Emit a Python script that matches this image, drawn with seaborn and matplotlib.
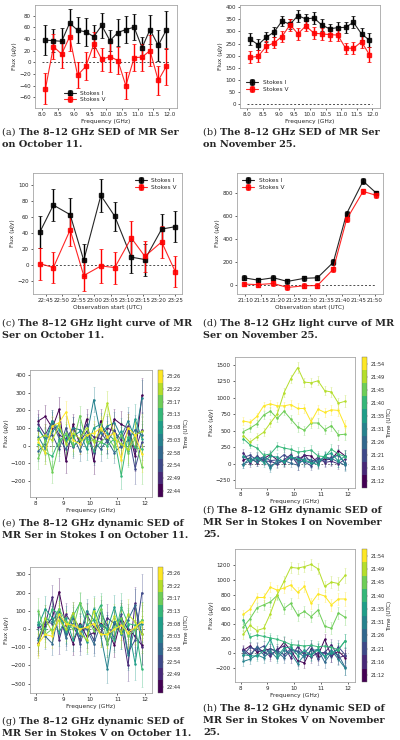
import numpy as np
import pandas as pd
import matplotlib
matplotlib.use("Agg")
import matplotlib.pyplot as plt
import matplotlib.dates as mdates
from matplotlib.colors import BoundaryNorm
from matplotlib.cm import ScalarMappable
import seaborn as sns

W, H = 400, 740

# ---------------- data ----------------
freq = [8.10, 8.35, 8.61, 8.86, 9.11, 9.37, 9.62, 9.87,
        10.13, 10.38, 10.63, 10.89, 11.14, 11.39, 11.65, 11.90]

# (a) SED Oct 11
oct_sed_I = [38, 37, 36, 67, 55, 52, 44, 63, 37, 51, 56, 60, 25, 56, 29, 55]
oct_sed_I_err = [26, 20, 23, 24, 22, 24, 19, 21, 18, 23, 23, 22, 18, 25, 26, 32]
oct_sed_V = [-45, 27, 14, 44, -22, -7, 31, 5, 10, 3, -40, 8, 9, 20, -31, -7]
oct_sed_V_err = [26, 22, 23, 24, 22, 24, 21, 20, 26, 23, 23, 23, 23, 26, 25, 31]

# (b) SED Nov 25
nov_sed_I = [267, 245, 276, 298, 343, 330, 366, 352, 356, 327, 311, 316, 317, 338, 290, 264]
nov_sed_I_err = [25, 22, 20, 22, 22, 20, 25, 22, 25, 23, 20, 22, 22, 25, 25, 30]
nov_sed_V = [192, 197, 238, 253, 279, 328, 290, 323, 293, 290, 287, 285, 231, 230, 257, 204]
nov_sed_V_err = [25, 25, 23, 23, 22, 24, 25, 22, 25, 25, 25, 25, 23, 25, 25, 30]

# (c) light curve Oct 11
oct_lc_time = ["22:43:06", "22:47:18", "22:52:30", "22:56:42", "23:02:00",
               "23:06:18", "23:11:24", "23:15:36", "23:20:48", "23:25:00"]
oct_lc_I = [41, 75, 63, 6, 87, 61, 10, 7, 45, 48]
oct_lc_I_err = [20, 20, 21, 20, 21, 18, 20, 20, 19, 19]
oct_lc_V = [2, -3, 44, -13, -1, -3, 34, 11, 29, -8]
oct_lc_V_err = [20, 19, 20, 19, 21, 20, 21, 19, 20, 19]

# (d) light curve Nov 25
nov_lc_time = ["21:09:30", "21:13:48", "21:18:42", "21:23:00", "21:28:12",
               "21:32:18", "21:37:12", "21:41:18", "21:46:24", "21:50:30"]
nov_lc_I = [60, 40, 60, 28, 55, 60, 195, 620, 905, 800]
nov_lc_I_err = [20, 20, 20, 20, 20, 20, 25, 25, 25, 20]
nov_lc_V = [5, 0, 10, -25, -10, -8, 135, 570, 815, 780]
nov_lc_V_err = [20, 20, 20, 20, 20, 20, 22, 25, 25, 20]

# colour bar labels (scan times)
oct_scans = ["22:44", "22:49", "22:54", "22:58", "23:03",
             "23:08", "23:13", "23:17", "23:22", "23:26"]
nov_scans = ["21:12", "21:16", "21:21", "21:26", "21:31",
             "21:35", "21:40", "21:45", "21:49", "21:54"]

# (e) dynamic SED Stokes I, Oct 11 (one row per scan)
oct_dyn_I = [
    [140, 165, 100, 205, -90, 120, 10, 150, -90, 140, 30, 150, 120, 100, -60, 285],
    [120, 60, 140, 60, 40, 100, 20, 80, 50, 40, 100, 80, 30, 110, -30, 90],
    [90, 40, 60, -20, 100, -10, 40, 120, -40, 80, 20, 90, -10, 80, -130, 20],
    [-30, 10, 130, 40, -20, 60, -30, 60, 30, -20, 30, -40, 0, 30, 90, 60],
    [50, -20, 80, 120, 20, 100, 90, 50, 260, 70, 110, 130, 50, 140, 40, 270],
    [100, 30, 140, 90, 30, 50, 80, -20, 100, 120, 70, 30, 80, -30, 150, 40],
    [10, -40, -60, 30, 60, 0, 30, 40, -30, 20, 0, 40, -170, 50, -10, -20],
    [-70, 30, -150, 10, 70, 10, 170, 20, 30, 20, 50, -10, 60, -40, 40, -120],
    [40, 60, 30, 120, 10, 70, 40, 100, 20, 90, 240, 40, 10, -20, 60, 80],
    [20, -40, 110, 130, 190, 30, 10, 60, 70, 100, 50, 70, -80, 100, 60, -50],
]
oct_dyn_I_err = [60, 65, 60, 70, 65, 60, 55, 60, 70, 65, 70, 60, 75, 80, 85, 100]

# (f) dynamic SED Stokes I, Nov 25
nov_dyn_I = [
    [60, 90, 20, 80, 140, 60, 20, 100, 60, 130, 120, 10, 80, 60, 200, 120],
    [170, 10, 120, 40, 40, 0, 60, 140, -10, 140, 20, 100, 20, 40, 0, 70],
    [100, 130, 60, 110, 50, 60, 140, 70, 110, 30, -30, 80, 40, 100, 130, 10],
    [0, 40, 110, 60, -30, 20, 50, 10, -20, 80, 60, 20, 110, 80, 30, -20],
    [-10, 90, 30, 100, -70, 60, 30, 120, 30, 40, 10, 50, 100, 70, 150, 0],
    [120, 40, 90, 20, 120, 100, 30, 100, 80, 60, 20, -10, 130, 160, 40, 120],
    [380, 290, 240, 130, 150, 270, 240, 220, 180, 190, 210, 120, 110, 220, 150, 110],
    [490, 540, 610, 740, 800, 690, 800, 680, 560, 510, 620, 620, 520, 580, 440, 450],
    [430, 330, 410, 480, 620, 760, 1080, 1290, 1460, 1240, 1230, 1260, 1110, 1090, 920, 950],
    [650, 630, 720, 880, 910, 880, 880, 900, 840, 840, 640, 830, 780, 820, 810, 580],
]
nov_dyn_I_err = [60, 55, 55, 60, 60, 60, 65, 65, 80, 70, 70, 70, 70, 75, 80, 90]

# (g) dynamic SED Stokes V, Oct 11
oct_dyn_V = [
    [-75, 15, 60, 205, 20, -80, 30, -40, -20, 30, 0, -90, 60, 0, -40, -90],
    [10, 25, 175, -60, 80, 20, -60, 80, 10, -20, 60, 30, 20, -200, 140, -100],
    [-50, 40, 30, 70, -30, 90, -80, 20, -60, 90, 20, -50, 80, -130, -60, 200],
    [30, -40, -80, 100, -50, 60, 10, 0, -80, 20, -80, 40, -30, 50, 130, -30],
    [-60, 60, 40, 110, -20, 30, -40, 100, 50, -30, -220, 40, 50, -140, 10, 30],
    [20, 110, 60, -20, 60, -60, 20, -70, 110, 20, 0, 120, -30, 20, -190, 50],
    [40, 0, 110, 80, -10, 70, 140, 20, 50, 130, -20, -60, 120, 30, 20, -220],
    [100, -30, 0, 110, 40, 0, 145, 70, -10, 110, -80, 10, 60, -40, 0, 50],
    [-90, 60, -20, 50, 0, 90, -20, -60, 100, -30, -30, 70, -20, 80, 40, -30],
    [-80, -30, -40, 80, 30, 20, 0, 10, 30, -30, -30, 0, 20, -20, 10, 40],
]
oct_dyn_V_err = [70, 70, 65, 75, 65, 60, 60, 65, 70, 70, 75, 65, 80, 85, 90, 100]

# (h) dynamic SED Stokes V, Nov 25
nov_dyn_V = [
    [40, 100, 20, 40, 60, 30, 150, 40, -100, -130, 60, -30, 190, -40, 30, -60],
    [60, -20, 80, 20, -40, 60, 100, -60, 90, -10, -50, 10, 10, 120, -60, -30],
    [-20, 80, 50, 100, -10, 40, -20, 60, 30, 0, 110, -80, 20, -40, 90, -20],
    [30, -40, 90, -20, 60, 20, -60, 40, 20, -50, 40, 50, -120, 10, -20, -190],
    [-110, -80, -20, -60, 30, -70, 40, 0, -140, -20, -10, 60, -50, 40, -80, -200],
    [-20, -30, -40, 40, 190, -40, 70, 90, -30, 40, -30, 50, -40, 10, 50, 170],
    [460, 220, 250, 230, 210, 190, 160, 120, 110, 100, 110, 90, 100, 80, 50, 170],
    [360, 470, 620, 660, 700, 790, 610, 680, 520, 570, 500, 590, 370, 340, 550, 490],
    [260, 380, 310, 340, 540, 800, 980, 1170, 1160, 1180, 1210, 1150, 910, 970, 950, 1060],
    [530, 600, 760, 760, 900, 860, 890, 930, 830, 910, 680, 810, 780, 660, 740, 740],
]
nov_dyn_V_err = [60, 60, 60, 65, 65, 65, 70, 70, 75, 75, 75, 75, 80, 80, 85, 100]

# ---------------- style ----------------
sns.set_theme(style="ticks", rc={
    "axes.edgecolor": "0.65",
    "axes.linewidth": 0.6,
    "xtick.major.size": 1.5,
    "ytick.major.size": 1.5,
    "xtick.major.width": 0.5,
    "ytick.major.width": 0.5,
    "xtick.major.pad": 1.5,
    "ytick.major.pad": 1.5,
    "xtick.labelsize": 4,
    "ytick.labelsize": 4,
    "axes.labelsize": 4.2,
    "axes.labelpad": 1.5,
})
plt.rcParams["font.family"] = ["DejaVu Sans"]

CAP_FS = 7.0
CAP_LS = 12

fig = plt.figure(figsize=(W / 100, H / 100), dpi=100)


def px_axes(left, top, right, bottom):
    return fig.add_axes([left / W, 1 - bottom / H, (right - left) / W, (bottom - top) / H])


def caption(x, y, tag, lines):
    # "(x)" in regular weight, the caption itself in bold
    t = fig.text(x / W, 1 - y / H, f"({tag}) ", fontsize=CAP_FS,
                 family="DejaVu Serif", va="baseline")
    fig.axes[0].annotate(lines[0], xy=(1, 0), xycoords=t, fontsize=CAP_FS,
                         family="DejaVu Serif", fontweight="bold",
                         va="bottom", ha="left", annotation_clip=False)
    for i, line in enumerate(lines[1:], start=1):
        fig.text(x / W, 1 - (y + CAP_LS * i) / H, line, fontsize=CAP_FS,
                 family="DejaVu Serif", fontweight="bold", va="baseline")


def stokes_panel(ax, x, yi, ei, yv, ev):
    ax.errorbar(x, yi, yerr=ei, fmt="s-", color="black", ms=2.2, lw=0.8,
                elinewidth=1.0, capsize=1.2, capthick=0.6, label="Stokes I")
    ax.errorbar(x, yv, yerr=ev, fmt="s-", color="red", ms=2.2, lw=0.8,
                elinewidth=1.0, capsize=1.2, capthick=0.6, label="Stokes V")
    for ln in ax.lines:
        ln.set_alpha(0.85)


def sed_panel(ax, ylim, yticks):
    ax.hlines(0, 8.0, 12.0, colors="0.3", linestyles=(0, (2, 2)), lw=0.7, zorder=0)
    ax.set_xlim(7.77, 12.24)
    ax.set_ylim(*ylim)
    ax.set_xticks([8.0, 8.5, 9.0, 9.5, 10.0, 10.5, 11.0, 11.5, 12.0])
    ax.set_yticks(yticks)
    ax.set_xlabel("Frequency (GHz)")
    ax.set_ylabel("Flux (μJy)")


# (a)
ax = px_axes(35, 5, 177, 108)
stokes_panel(ax, freq, oct_sed_I, oct_sed_I_err, oct_sed_V, oct_sed_V_err)
sed_panel(ax, (-78, 98), [-60, -40, -20, 0, 20, 40, 60, 80])
ax.legend(loc="lower left", bbox_to_anchor=(0.18, 0.02), frameon=False,
          fontsize=4.2, handlelength=2, borderaxespad=0.2, labelspacing=0.3)

# (b)
ax = px_axes(240, 5, 380, 108)
stokes_panel(ax, freq, nov_sed_I, nov_sed_I_err, nov_sed_V, nov_sed_V_err)
sed_panel(ax, (-18, 410), list(range(0, 401, 50)))
ax.legend(loc="lower left", bbox_to_anchor=(0.02, 0.12), frameon=False,
          fontsize=4.2, handlelength=2, borderaxespad=0.2, labelspacing=0.3)


def lc_panel(ax, day, times, yi, ei, yv, ev, ylim, yticks, loc):
    t = pd.to_datetime([f"{day} {s}" for s in times])
    stokes_panel(ax, t, yi, ei, yv, ev)
    ax.hlines(0, t[0], t[-1], colors="0.3", linestyles=(0, (2, 2)), lw=0.7, zorder=0)
    ax.xaxis.set_major_locator(mdates.MinuteLocator(byminute=range(0, 60, 5)))
    ax.xaxis.set_major_formatter(mdates.DateFormatter("%H:%M"))
    ax.set_ylim(*ylim)
    ax.set_yticks(yticks)
    ax.set_xlabel("Observation start (UTC)")
    ax.set_ylabel("Flux (μJy)")
    ax.legend(loc=loc, frameon=False, fontsize=4.2, handlelength=2,
              borderaxespad=0.5, labelspacing=0.3)


# (c)
ax = px_axes(33, 173, 182, 294)
lc_panel(ax, "2019-10-11", oct_lc_time, oct_lc_I, oct_lc_I_err, oct_lc_V, oct_lc_V_err,
         (-36, 115), [-20, 0, 20, 40, 60, 80, 100], "upper right")

# (d)
ax = px_axes(237, 173, 383, 294)
lc_panel(ax, "2019-11-25", nov_lc_time, nov_lc_I, nov_lc_I_err, nov_lc_V, nov_lc_V_err,
         (-82, 976), [0, 200, 400, 600, 800], "upper left")

cmap = plt.get_cmap("viridis", 10)
scan_colors = [cmap(i) for i in range(10)]


def dyn_panel(box, cbox, rows, err, scans, ylim, yticks):
    ax = px_axes(*box)
    ax.hlines(0, 8.0, 12.0, colors="0.4", linestyles=(0, (2, 2)), lw=0.6, zorder=0)
    df = pd.DataFrame({
        "freq": np.tile(freq, len(rows)),
        "flux": np.concatenate(rows),
        "scan": np.repeat(scans, len(freq)),
    })
    for i, row in enumerate(rows):
        ax.errorbar(freq, row, yerr=err, fmt="none", ecolor=scan_colors[i],
                    elinewidth=0.7, capsize=0.8, capthick=0.4, alpha=0.35)
    sns.lineplot(data=df, x="freq", y="flux", hue="scan", hue_order=scans,
                 palette=scan_colors, marker="o", markersize=1.8, markeredgewidth=0,
                 lw=0.7, legend=False, ax=ax, estimator=None, sort=False)
    ax.set_xlim(7.79, 12.27)
    ax.set_ylim(*ylim)
    ax.set_xticks([8, 9, 10, 11, 12])
    ax.set_yticks(yticks)
    ax.set_xlabel("Frequency (GHz)")
    ax.set_ylabel("Flux (μJy)")

    cax = px_axes(*cbox)
    sm = ScalarMappable(norm=BoundaryNorm(np.arange(11), 10), cmap=cmap)
    cb = fig.colorbar(sm, cax=cax, ticks=np.arange(10) + 0.5)
    cb.ax.set_yticklabels(scans)
    cb.ax.minorticks_off()
    cb.ax.tick_params(labelsize=3.6, length=1.0, width=0.3, pad=1.5, color="0.3")
    cb.outline.set_linewidth(0.3)
    cb.outline.set_edgecolor("0.4")
    cb.set_label("Time (UTC)", fontsize=4, labelpad=2)


# (e)
dyn_panel((30, 370, 152, 497), (158, 370, 163, 497), oct_dyn_I, oct_dyn_I_err,
          oct_scans, (-291, 428), [-200, -100, 0, 100, 200, 300, 400])
# (f)
dyn_panel((235, 357, 355, 488), (362, 357, 367, 488), nov_dyn_I, nov_dyn_I_err,
          nov_scans, (-366, 1621), [-250, 0, 250, 500, 750, 1000, 1250, 1500])
# (g)
dyn_panel((30, 567, 152, 693), (158, 567, 163, 693), oct_dyn_V, oct_dyn_V_err,
          oct_scans, (-351, 340), [-300, -200, -100, 0, 100, 200, 300])
# (h)
dyn_panel((235, 549, 355, 682), (362, 549, 367, 682), nov_dyn_V, nov_dyn_V_err,
          nov_scans, (-390, 1420), [-200, 0, 200, 400, 600, 800, 1000, 1200])

# captions
caption(2, 135, "a", ["The 8–12 GHz SED of MR Ser", "on October 11."])
caption(203, 135, "b", ["The 8–12 GHz SED of MR Ser", "on November 25."])
caption(2, 326, "c", ["The 8–12 GHz light curve of MR", "Ser on October 11."])
caption(203, 326, "d", ["The 8–12 GHz light curve of MR", "Ser on November 25."])
caption(2, 526, "e", ["The 8–12 GHz dynamic SED of", "MR Ser in Stokes I on October 11."])
caption(203, 513, "f", ["The 8–12 GHz dynamic SED of", "MR Ser in Stokes I on November", "25."])
caption(2, 724, "g", ["The 8–12 GHz dynamic SED of", "MR Ser in Stokes V on October 11."])
caption(203, 711, "h", ["The 8–12 GHz dynamic SED of", "MR Ser in Stokes V on November", "25."])

fig.savefig("out.png", dpi=100)
